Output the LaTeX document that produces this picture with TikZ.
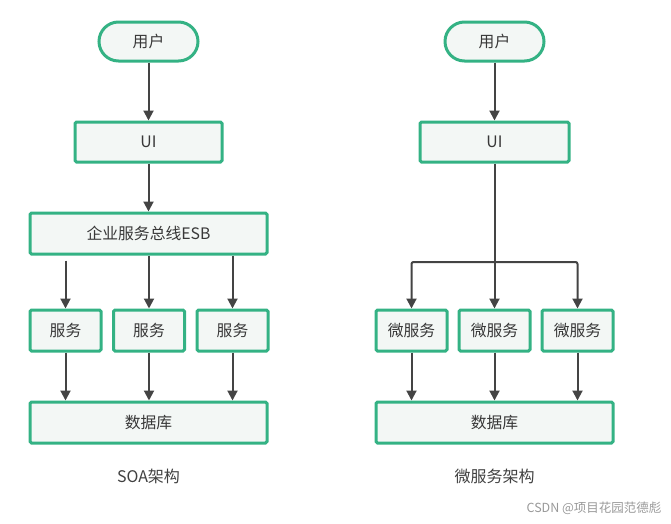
\documentclass[tikz,border=0pt]{standalone}
\usepackage{fontspec}
\setmainfont{Noto Sans CJK SC}
\usetikzlibrary{arrows.meta,shapes.misc}
\definecolor{bordergreen}{RGB}{52,178,132}
\definecolor{boxfill}{RGB}{243,247,245}
\definecolor{arrowgray}{RGB}{68,68,68}
\tikzset{
  x=1pt,y=-1pt,
  box/.style={draw=bordergreen,fill=boxfill,line width=3pt,rounded corners=1.5pt,inner sep=0pt,font=\fontsize{15.8}{18}\selectfont,text=black!78},
  userbox/.style={draw=bordergreen,fill=boxfill,line width=3pt,rounded rectangle,minimum width=99pt,minimum height=39pt,inner sep=0pt,font=\fontsize{15.8}{18}\selectfont,text=black!78},
  arr/.style={draw=arrowgray,line width=2pt,-{Triangle[length=10pt,width=10pt]}},
  caption/.style={font=\fontsize{16}{18}\selectfont,text=black!75}
}
\begin{document}
\begin{tikzpicture}
\useasboundingbox (0,0) rectangle (671,523);
% left: SOA
\node[userbox] (u1) at (148.5,41.5) {用户};
\node[box,minimum width=147pt,minimum height=40pt] (ui1) at (148.5,142) {UI};
\node[box,minimum width=237pt,minimum height=41pt] (esb) at (148.5,233.5) {企业服务总线ESB};
\node[box,minimum width=71pt,minimum height=41pt] (s1) at (65.5,330.5) {服务};
\node[box,minimum width=71pt,minimum height=41pt] (s2) at (149,330.5) {服务};
\node[box,minimum width=71pt,minimum height=41pt] (s3) at (232.5,330.5) {服务};
\node[box,minimum width=237pt,minimum height=41pt] (db1) at (148.5,422.5) {数据库};
\node[caption] (c1) at (148.5,476) {SOA架构};
\draw[arr] (u1) -- (ui1);
\draw[arr] (ui1) -- (esb);
\draw[arr,shorten <=5pt] (esb.south -| s1) -- (s1);
\draw[arr] (esb.south -| s2) -- (s2);
\draw[arr] (esb.south -| s3) -- (s3);
\draw[arr] (s1) -- (db1.north -| s1);
\draw[arr] (s2) -- (db1.north -| s2);
\draw[arr] (s3) -- (db1.north -| s3);
% right: microservices
\node[userbox] (u2) at (494.5,41.5) {用户};
\node[box,minimum width=149pt,minimum height=40pt] (ui2) at (494.5,142) {UI};
\node[box,minimum width=71pt,minimum height=41pt] (m1) at (411.5,330.5) {微服务};
\node[box,minimum width=71pt,minimum height=41pt] (m2) at (494.5,330.5) {微服务};
\node[box,minimum width=71pt,minimum height=41pt] (m3) at (577.5,330.5) {微服务};
\node[box,minimum width=237pt,minimum height=41pt] (db2) at (494.5,422.5) {数据库};
\node[caption] (c2) at (494.5,476) {微服务架构};
\coordinate (br) at (494.5,262);
\draw[arr] (u2) -- (ui2);
\draw[arr] (ui2) -- (m2);
\draw[arr,rounded corners=2pt] (br) -| (m1);
\draw[arr,rounded corners=2pt] (br) -| (m3);
\draw[arr] (m1) -- (db2.north -| m1);
\draw[arr] (m2) -- (db2.north -| m2);
\draw[arr] (m3) -- (db2.north -| m3);
% watermark
\node[font=\fontsize{12.5}{14}\selectfont,text=black!40,anchor=east] (wm) at (665,508) {CSDN @项目花园范德彪};
\end{tikzpicture}
\end{document}
